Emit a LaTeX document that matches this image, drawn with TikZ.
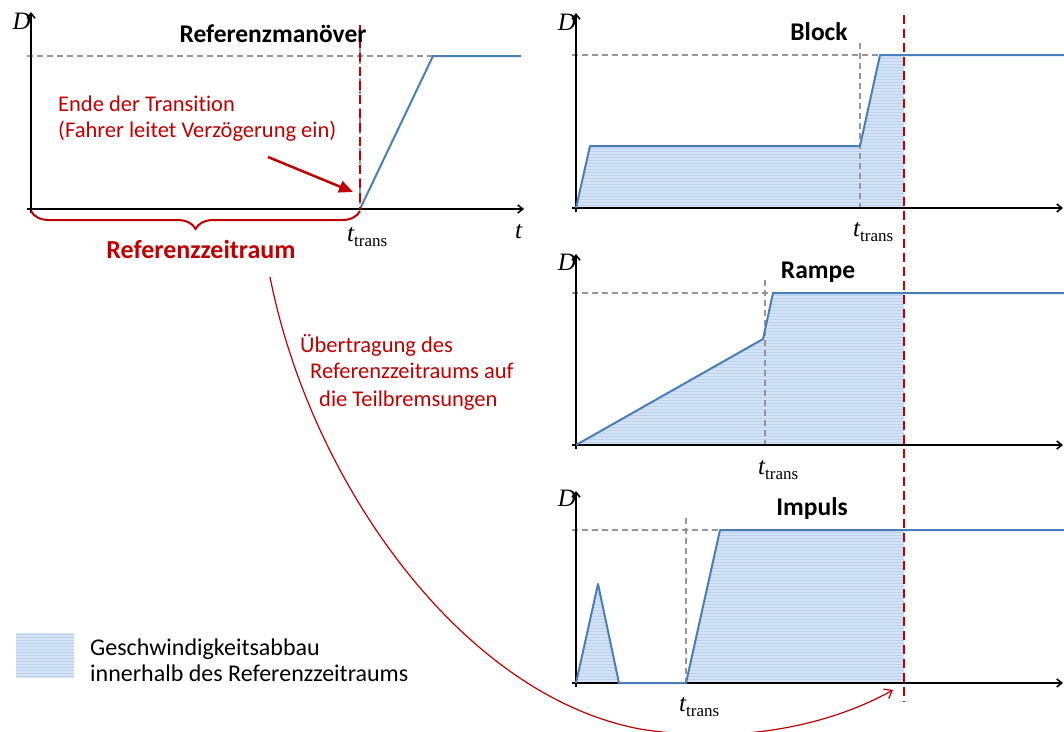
\documentclass[tikz,border=0pt]{standalone}
\usepackage{fontspec}
\setmainfont{Carlito}[Ligatures={NoCommon}]
\newfontfamily\tms{Liberation Serif}
\usetikzlibrary{arrows.meta,decorations.pathreplacing,patterns}
\definecolor{dred}{RGB}{192,0,0}
\definecolor{cblue}{RGB}{74,126,187}
\definecolor{bfill}{RGB}{212,227,245}
\definecolor{bstripe}{RGB}{188,210,236}
\definecolor{dgray}{RGB}{150,150,150}
\newcommand{\ttr}{{\tms\fontsize{25}{25}\selectfont\itshape t}\raisebox{-5pt}{\tms\fontsize{17}{17}\selectfont trans}}
\newcommand{\Dlab}{{\tms\fontsize{25}{25}\selectfont\itshape D}}
\begin{document}
\begin{tikzpicture}[x=1pt,y=-1pt,
 axis/.style={line width=1.6pt, -{Straight Barb[length=5pt,width=8pt]}},
 curve/.style={cblue, line width=2pt, line join=round},
 guide/.style={dgray, line width=1.1pt, dash pattern=on 6pt off 4pt},
 tdash/.style={dred, line width=2.2pt, dash pattern=on 9pt off 5pt},
 area/.style={fill=bfill, postaction={pattern=horizontal lines, pattern color=bstripe}},
 title/.style={font=\fontsize{25.5}{28}\selectfont\bfseries, anchor=base, inner sep=0pt},
 rtext/.style={dred, font=\fontsize{22.5}{26}\selectfont, anchor=base west, inner sep=0pt},
 btext/.style={font=\fontsize{24}{28}\selectfont, anchor=base west, inner sep=0pt},
 lab/.style={anchor=base west, inner sep=0pt},
 dlab/.style={anchor=east, inner sep=0pt},
]
\useasboundingbox (0,0) rectangle (1064,731);

% ---------- Referenzmanoever ----------
\draw[guide] (27,56) -- (433,56);
\draw[guide] (360,28) -- (360,209);
\draw[axis] (31,213) -- (31,12);
\draw[axis] (27,209) -- (524,209);
\draw[curve] (360,209) -- (433,56) -- (521,56);
\draw[tdash] (360,25) -- (360,209);
\node[dlab] (d0) at (31,21) {\Dlab};
\node[title] (t0) at (273,42) {Referenzmanöver};
\node[lab] (tt0) at (347,241) {\ttr};
\node[lab] (tx) at (515,238) {\tms\fontsize{25}{25}\selectfont\itshape t};
\node[rtext] (e1) at (58,111) {Ende der Transition};
\node[rtext] (e2) at (58,137) {(Fahrer leitet Verzögerung ein)};
\coordinate (ea) at (268,157);
\coordinate (eb) at (353,192);
\draw[dred, line width=2.5pt, -{Triangle[length=14pt,width=12pt]}] (ea) -- (eb);
\draw[dred, line width=2pt, decorate, decoration={brace, mirror, amplitude=18pt}] (31,211) -- (360,211);
\node[dred, font=\fontsize{26}{29}\selectfont\bfseries, anchor=base, inner sep=0pt] (rz) at (201,258) {Referenzzeitraum};

% ---------- Block ----------
\path[area] (576,208) -- (590,146) -- (860,146) -- (880,55) -- (904,55) -- (904,208) -- cycle;
\draw[guide] (572,55) -- (880,55);
\draw[guide] (860,43) -- (860,208);
\draw[axis] (576,212) -- (576,13);
\draw[axis] (572,208) -- (1063,208);
\draw[curve] (576,208) -- (590,146) -- (860,146) -- (880,55) -- (1064,55);
\node[dlab] (d1) at (576,22) {\Dlab};
\node[title] (t1) at (819,40) {Block};
\node[lab] (tt1) at (853,236) {\ttr};

% ---------- Rampe ----------
\path[area] (576,445) -- (763,339) -- (773,293) -- (904,293) -- (904,445) -- cycle;
\draw[guide] (572,293) -- (773,293);
\draw[guide] (765,280) -- (765,445);
\draw[axis] (576,449) -- (576,254);
\draw[axis] (572,445) -- (1063,445);
\draw[curve] (576,445) -- (763,339) -- (773,293) -- (1064,293);
\node[dlab] (d2) at (576,262) {\Dlab};
\node[title] (t2) at (818,278) {Rampe};
\node[lab] (tt2) at (758,474) {\ttr};

% ---------- Impuls ----------
\path[area] (576,683) -- (598,584) -- (619,683) -- cycle;
\path[area] (686,683) -- (720,530) -- (904,530) -- (904,683) -- cycle;
\draw[guide] (572,530) -- (720,530);
\draw[guide] (686,518) -- (686,683);
\draw[axis] (576,687) -- (576,491);
\draw[axis] (572,683) -- (1063,683);
\draw[curve] (576,683) -- (598,584) -- (619,683) -- (686,683) -- (720,530) -- (1064,530);
\node[dlab] (d3) at (576,498) {\Dlab};
\node[title] (t3) at (812,515) {Impuls};
\node[lab] (tt3) at (679,711) {\ttr};

% ---------- common boundary ----------
\draw[tdash] (904,15) -- (904,702);

% ---------- transfer arrow ----------
\coordinate (cs) at (270,277);
\coordinate (cm) at (640,729);
\coordinate (ce) at (893,690);
\draw[dred, line width=1.2pt] (cs) .. controls (310,480) and (460,695) .. (cm);
\draw[dred, line width=1.2pt, -{Straight Barb[length=7pt,width=11pt]}] (cm) .. controls (740,745) and (830,725) .. (ce);
\node[rtext] (u1) at (300,352) {Übertragung des};
\node[rtext] (u2) at (310,378) {Referenzzeitraums auf};
\node[rtext] (u3) at (319,406) {die Teilbremsungen};

% ---------- legend ----------
\node[area, minimum width=58pt, minimum height=45pt, inner sep=0pt] (lg) at (45,655.5) {};
\node[btext] (l1) at (90,655) {Geschwindigkeitsabbau};
\node[btext] (l2) at (90,681) {innerhalb des Referenzzeitraums};
\end{tikzpicture}
\end{document}
